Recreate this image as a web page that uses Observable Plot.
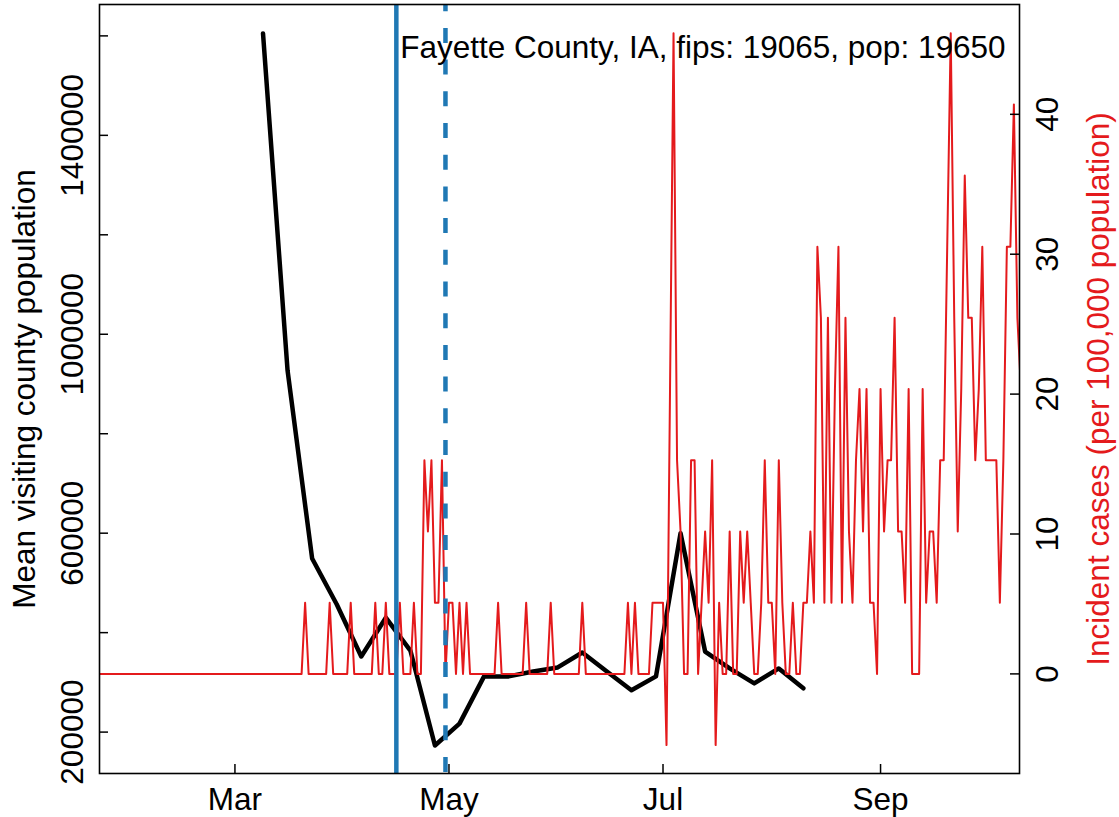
<!DOCTYPE html>
<html>
<head>
<meta charset="utf-8">
<script src="https://cdn.jsdelivr.net/npm/d3@7"></script>
<script src="https://cdn.jsdelivr.net/npm/@observablehq/plot@0.6"></script>
<style>
  html, body { margin: 0; padding: 0; background: #ffffff; }
  #chart { position: relative; width: 1119px; height: 817px; }
  #chart svg { position: absolute; left: 0; top: 0; max-width: none; }
</style>
</head>
<body>
<div id="chart"></div>
<script>
// ---------------- data ----------------
const titleText = "Fayette County, IA, fips: 19065, pop: 19650";
const leftTitle = "Mean visiting county population";
const rightTitle = "Incident cases (per 100,000 population)";

// weekly mean visiting county population (black)
const visitDates = ["2020-03-09","2020-03-16","2020-03-23","2020-03-30","2020-04-06","2020-04-13",
  "2020-04-20","2020-04-27","2020-05-04","2020-05-11","2020-05-18","2020-05-25","2020-06-01",
  "2020-06-08","2020-06-15","2020-06-22","2020-06-29","2020-07-06","2020-07-13","2020-07-20",
  "2020-07-27","2020-08-03","2020-08-10"];
const visitValues = [1605000, 927000, 549000, 457000, 352000, 430000,
  364000, 173000, 217000, 312000, 312000, 322000, 330000,
  360000, 322000, 284000, 312000, 600000, 362000, 328000,
  298000, 328000, 288000];

// daily incident cases per 100,000 (red), one value per day from caseStart
const caseStart = "2020-01-22";
const incidence = [
  0,0,0,0,0,0,0,0,0,0,0,0,0,0,0,0,0,0,0,0,
  0,0,0,0,0,0,0,0,0,0,0,0,0,0,0,0,0,0,0,0,
  0,0,0,0,0,0,0,0,0,0,0,0,0,0,0,0,0,0,0,5.09,
  0,0,0,0,0,0,5.09,0,0,0,0,0,5.09,0,0,0,0,0,0,5.09,
  0,0,5.09,0,0,0,5.09,0,0,0,5.09,0,0,15.27,10.18,15.27,5.09,5.09,15.27,0,
  5.09,5.09,0,5.09,0,5.09,0,0,0,0,0,0,0,0,5.09,0,0,0,0,0,
  0,0,5.09,0,0,0,0,0,0,5.09,0,0,0,0,0,0,0,0,5.09,0,
  0,0,0,0,0,0,0,0,0,0,0,5.09,0,5.09,0,0,0,0,5.09,5.09,
  5.09,5.09,-5.09,20.36,45.8,15.27,10.18,0,0,15.27,15.27,0,5.09,10.18,5.09,15.27,-5.09,5.09,0,0,
  10.18,0,0,10.18,5.09,10.18,5.09,0,0,5.09,15.27,5.09,5.09,0,15.27,5.09,0,0,5.09,0,
  0,5.09,5.09,10.18,5.09,30.53,25.45,5.09,25.45,5.09,20.36,30.53,5.09,25.45,10.18,5.09,15.27,20.36,10.18,20.36,
  5.09,5.09,0,20.36,10.18,15.27,15.27,25.45,10.18,10.18,5.09,20.36,0,0,0,20.36,5.09,10.18,10.18,5.09,
  15.27,15.27,30.53,45.8,25.45,10.18,20.36,35.62,25.45,25.45,15.27,20.36,30.53,15.27,15.27,15.27,15.27,5.09,15.27,30.53,
  30.53,40.71,25.45,20.36
];

// policy dates (blue vertical lines)
const policyDates = ["2020-04-16", "2020-04-30"];
const policyDash = ["none", "15,16.7"];

// axis ticks
const monthTicks = ["2020-03-01", "2020-05-01", "2020-07-01", "2020-09-01"];
const leftTicks = [200000, 400000, 600000, 800000, 1000000, 1200000, 1400000, 1600000];
const leftLabels = [200000, 600000, 1000000, 1400000];
const rightTicks = [0, 10, 20, 30, 40];

// ---------------- build ----------------
const W = 1119, H = 817;
const mL = 99, mR = 100, mT = 4, mB = 44;
const plotW = W - mL - mR, plotH = H - mT - mB;
const FONT = "'Liberation Sans', Arial, Helvetica, sans-serif";
const FS = 31.5;
const DAY = 864e5;

const start = new Date(caseStart);
const xDomain = [new Date(+start + 0.4 * DAY), new Date(+start + 262.6 * DAY)];

const visits = visitDates.map((d, i) => ({date: new Date(d), value: visitValues[i]}));
const cases = incidence.map((v, i) => ({date: new Date(+start + i * DAY), value: v}));
const policies = policyDates.map((d, i) => ({date: new Date(d), dash: policyDash[i]}));
const monthDates = monthTicks.map(d => new Date(d));

const common = {
  width: W, height: H,
  marginLeft: mL, marginRight: mR, marginTop: mT, marginBottom: mB,
  style: {fontFamily: FONT, fontSize: FS + "px", background: "transparent", overflow: "visible", color: "black"}
};

const p1 = Plot.plot({
  ...common,
  x: {type: "utc", domain: xDomain},
  y: {domain: [116750, 1663100]},
  marks: [
    Plot.line(visits, {x: "date", y: "value", stroke: "black", strokeWidth: 4.5, strokeLinejoin: "round"}),
    Plot.tickX(monthDates, {x: d => d, insetTop: plotH - 9, stroke: "black", strokeWidth: 1.5}),
    Plot.tickY(leftTicks, {y: d => d, insetRight: plotW - 9, stroke: "black", strokeWidth: 1.5}),
    Plot.axisX({ticks: monthDates, tickSize: 0, tickPadding: 14.6, tickFormat: d3.utcFormat("%b"),
      fontSize: FS, label: null}),
    Plot.axisY({ticks: leftLabels, tickSize: 0, tickRotate: -90, tickPadding: 17,
      tickFormat: d => String(d), fontSize: FS, label: null}),
    Plot.text([leftTitle], {frameAnchor: "left", dx: -87, rotate: -90, lineAnchor: "top",
      textAnchor: "middle", fontSize: FS, fill: "black"})
  ]
});

const p2 = Plot.plot({
  ...common,
  x: {type: "utc", domain: xDomain, axis: null},
  y: {domain: [-7.12, 47.85]},
  marks: [
    Plot.line(cases, {x: "date", y: "value", stroke: "#e41a1c", strokeWidth: 2, clip: true}),
    Plot.ruleX(policies.filter(p => p.dash === "none"), {x: "date", stroke: "#1f78b4", strokeWidth: 4.5}),
    Plot.ruleX(policies.filter(p => p.dash !== "none"), {x: "date", stroke: "#1f78b4", strokeWidth: 4.5,
      strokeDasharray: policyDash[1], strokeDashoffset: 7.8}),
    Plot.tickY(rightTicks, {y: d => d, insetLeft: plotW - 9, stroke: "black", strokeWidth: 1.5}),
    Plot.axisY({anchor: "right", ticks: rightTicks, tickSize: 0, tickRotate: -90, tickPadding: 38,
      tickFormat: d => String(d), fontSize: FS, label: null}),
    Plot.text([rightTitle], {frameAnchor: "right", dx: 89, rotate: -90, lineAnchor: "bottom",
      textAnchor: "middle", fontSize: FS, fill: "#e41a1c"}),
    Plot.text([titleText], {frameAnchor: "top-right", dx: -14, dy: 53, lineAnchor: "bottom",
      textAnchor: "end", fontSize: FS, fill: "black"}),
    Plot.frame({stroke: "black", strokeWidth: 1.6})
  ]
});

const chart = document.getElementById("chart");
chart.appendChild(p1);
chart.appendChild(p2);
</script>
</body>
</html>
